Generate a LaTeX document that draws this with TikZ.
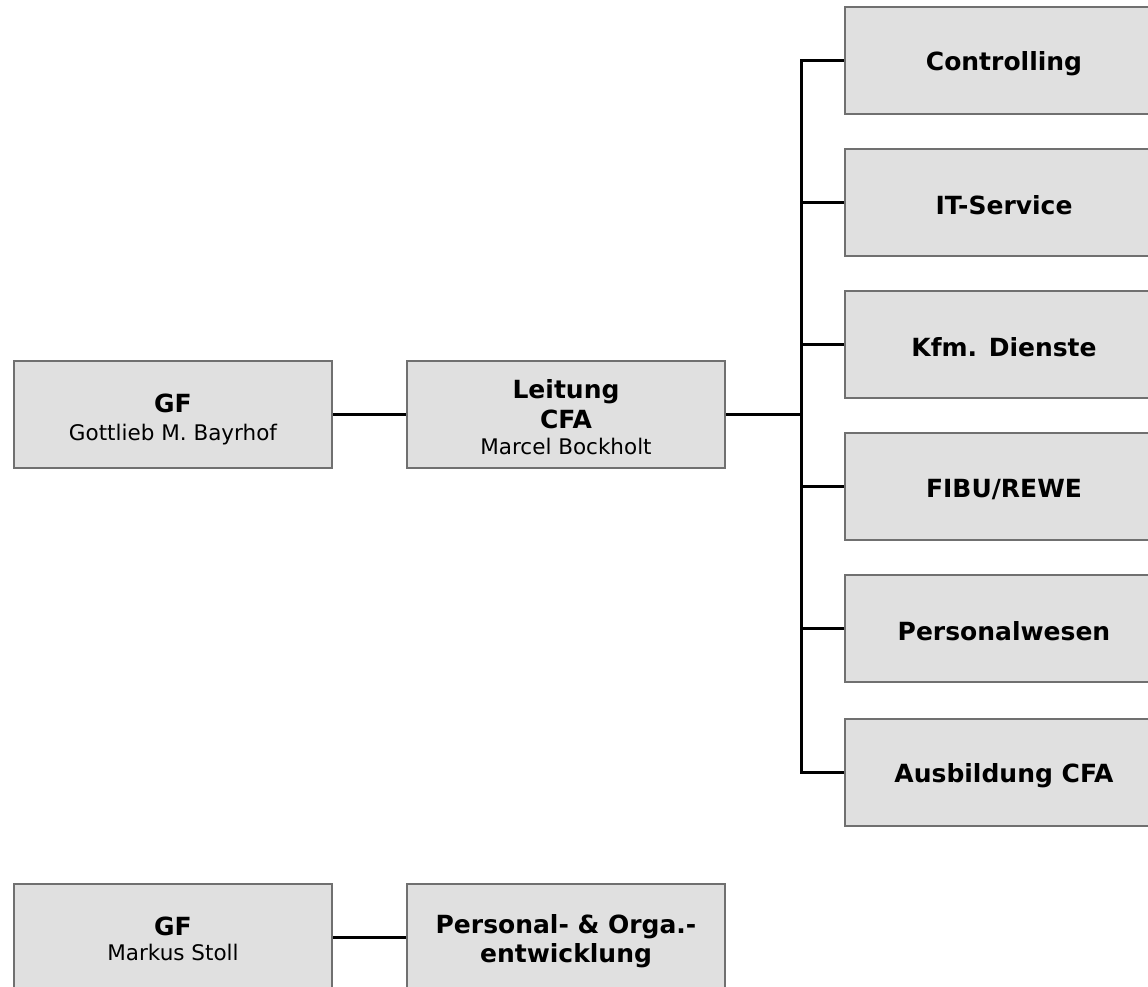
\documentclass[tikz,border=0pt]{standalone}
\usepackage{fontspec}
\setmainfont{DejaVu Sans}
\usetikzlibrary{calc}
\definecolor{boxfill}{HTML}{E0E0E0}
\definecolor{boxline}{HTML}{707070}
\tikzset{
  orgbox/.style={draw=boxline, line width=2pt, fill=boxfill, minimum width=318pt, minimum height=107pt, inner sep=0pt, align=center, anchor=north west, font=\fontsize{21.5}{29}\selectfont},
  link/.style={draw=black, line width=3pt},
}
\newcommand{\hd}[1]{{\bfseries\fontsize{25}{30}\selectfont #1}}
\newcommand{\hdt}[2]{{\bfseries\fontsize{25}{30}\selectfont\rule{0pt}{#1}#2}}
\begin{document}
\begin{tikzpicture}[x=1pt,y=1pt]
\useasboundingbox (0,0) rectangle (1148,-987);
\clip (0,0) rectangle (1148,-987);
\node[orgbox] (gf1) at (13,-360) {\hdt{29pt}{GF}\\[-1pt]Gottlieb M. Bayrhof};
\node[orgbox] (lt) at (406,-360) {\hdt{24pt}{Leitung}\\[1pt]\hd{CFA}\\[-3pt]Marcel Bockholt};
\node[orgbox] (c1) at (844,-6) {\hdt{25pt}{Controlling}};
\node[orgbox] (c2) at (844,-148) {\hdt{25pt}{IT-Service}};
\node[orgbox] (c3) at (844,-290) {\hdt{25pt}{Kfm. Dienste}};
\node[orgbox] (c4) at (844,-432) {\hdt{25pt}{FIBU/REWE}};
\node[orgbox] (c5) at (844,-574) {\hdt{25pt}{Personalwesen}};
\node[orgbox] (c6) at (844,-718) {\hdt{25pt}{Ausbildung CFA}};
\node[orgbox] (gf2) at (13,-883) {\hdt{21pt}{GF}\\[-4pt]Markus Stoll};
\node[orgbox] (pe) at (406,-883) {\hdt{26pt}{Personal- \& Orga.-}\\\hd{entwicklung}};
\coordinate (bus) at ([xshift=75pt]lt.east);
\draw[link] (gf1.east) -- (lt.west);
\draw[link] (lt.east) -- (bus);
\draw[link] (c1.west) -| (bus);
\draw[link] (c6.west) -| (bus);
\foreach \n in {c2,c3,c4,c5} { \draw[link] (\n.west) -- (\n.west -| bus); }
\draw[link] (gf2.east) -- (pe.west);
\end{tikzpicture}
\end{document}
